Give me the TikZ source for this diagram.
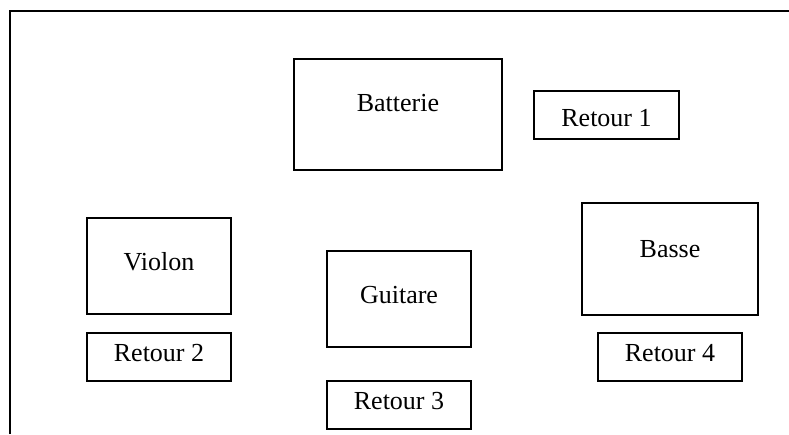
\documentclass[tikz,border=0pt]{standalone}
\usepackage{fontspec}
\setmainfont{Liberation Serif}
\usetikzlibrary{positioning}

\begin{document}
\begin{tikzpicture}[x=1pt,y=-1pt,line width=1.8pt,
                    box/.style={draw,rectangle,inner sep=0pt,minimum width=144pt,
                                minimum height=96pt,text height=17pt,text depth=8pt,
                                font=\fontsize{26}{31}\selectfont},
                    retour/.style={box,minimum height=48pt}]
                \useasboundingbox (0,0) rectangle (789,434);
                % cadre
                \coordinate (coin)   at (10,11);
                \coordinate (bas)    at (10,434);
                \coordinate (droite) at (789,11);
                \draw (bas) -- (coin) -- (droite);
                % musiciens
                \node [box,minimum width=208pt,minimum height=111pt,text depth=24pt]
                                   (batterie) at (398,114.5) {Batterie};
                \node [box]        (violon)   at (159,266)   {Violon};
                \node [box]        (guitare)  at (399,299)   {Guitare};
                \node [box,minimum width=176pt,minimum height=112pt,text depth=20pt]
                                   (basse)    at (670,259)   {Basse};
                % retours
                \node [retour,minimum width=145pt,text height=23pt,text depth=0pt]
                               (retour1) at (606.5,115) {Retour 1};
                \node [retour] (retour2) [below=17pt of violon]  {Retour 2};
                \node [retour] (retour3) [below=32pt of guitare] {Retour 3};
                \node [retour] (retour4) [below=16pt of basse]   {Retour 4};
            \end{tikzpicture}
\end{document}
